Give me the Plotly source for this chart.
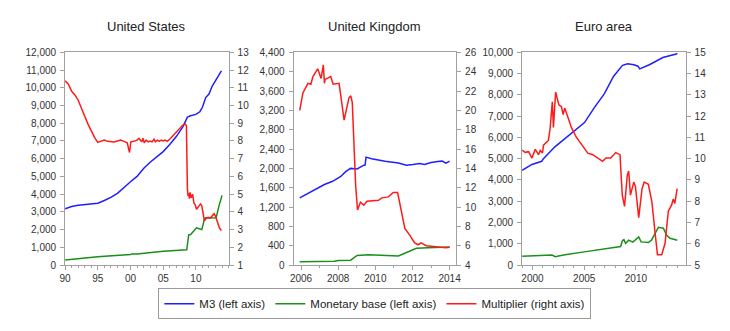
import plotly.graph_objects as go

# ---------------- United States ----------------
us_m3_year = [1990, 1991, 1992, 1993, 1994, 1995, 1996, 1997, 1998, 1999, 2000, 2001, 2002, 2003, 2004,
              2005, 2006, 2007, 2008, 2008.7, 2009.2, 2010, 2010.6, 2011, 2011.5, 2012, 2012.5, 2013, 2013.9]
us_m3 = [3180, 3300, 3370, 3420, 3460, 3490, 3640, 3820, 4050, 4400, 4700, 5000, 5450, 5800, 6100,
         6400, 6800, 7250, 7800, 8350, 8420, 8500, 8650, 8900, 9450, 9650, 10100, 10400, 10950]

us_mb_year = [1990, 1995, 2000, 2000.2, 2001, 2005, 2008.6, 2008.75, 2008.9, 2009.2, 2009.6, 2010.1, 2010.5,
              2010.9, 2011.3, 2011.5, 2012.0, 2012.5, 2013.1, 2013.5, 2014.0]
us_mb = [280, 470, 600, 630, 620, 780, 860, 1300, 1700, 1720, 1900, 2100, 2050, 2000, 2580, 2670, 2660,
         2680, 2670, 3300, 3930]

us_mult_year = [1990, 1990.5, 1991, 1991.5, 1992, 1992.5, 1993, 1993.5, 1994, 1994.5, 1995, 1995.5, 1996,
                1996.5, 1997, 1997.5, 1998, 1998.5, 1999, 1999.5, 1999.85, 2000.05, 2000.5, 2001, 2001.3,
                2001.5, 2001.7, 2001.9, 2002.1, 2002.4, 2002.7, 2003, 2003.3, 2003.6, 2003.8, 2004.1,
                2004.4, 2004.7, 2005, 2005.3, 2005.6, 2006, 2006.5, 2007, 2007.5, 2008, 2008.4, 2008.55,
                2008.7, 2008.8, 2008.9, 2009.0, 2009.1, 2009.3, 2009.5, 2009.7, 2009.9, 2010.1, 2010.4,
                2010.7, 2010.9, 2011.1, 2011.3, 2011.6, 2011.9, 2012.2, 2012.5, 2012.8, 2013.0, 2013.3,
                2013.6, 2013.9]
us_mult = [11.4, 11.2, 10.8, 10.6, 10.3, 9.9, 9.4, 8.95, 8.55, 8.2, 7.92, 8.0, 8.05, 7.98, 7.97, 7.95,
           8.0, 8.05, 7.98, 7.9, 7.35, 7.95, 7.98, 8.05, 8.15, 8.05, 7.95, 8.15, 7.9, 8.05, 7.95, 8.0,
           7.95, 8.1, 7.95, 8.05, 7.98, 8.05, 8.0, 8.05, 7.98, 8.1, 8.3, 8.45, 8.65, 8.9, 8.95, 8.85,
           5.3, 4.9, 5.05, 4.75, 5.1, 4.8, 5.0, 4.5, 4.4, 4.15, 4.3, 4.45, 4.35, 3.8, 3.5, 3.65, 3.7,
           3.65, 3.8, 3.9, 3.75, 3.4, 3.1, 2.95]

# ---------------- United Kingdom ----------------
uk_m3_year = [2005.93, 2006.64, 2007.26, 2007.7, 2008.14, 2008.4, 2008.67, 2009.02, 2009.2, 2009.38, 2009.45,
              2009.5, 2009.8, 2010.53, 2011.24, 2011.68, 2012.03, 2012.39, 2012.65, 2013.0, 2013.36,
              2013.6, 2013.8, 2014.0]
uk_m3 = [1390, 1533, 1667, 1733, 1833, 1933, 2000, 1987, 2033, 2067, 2070, 2233, 2200, 2147, 2113, 2067,
         2080, 2100, 2080, 2120, 2140, 2150, 2110, 2150]

uk_mb_year = [2005.93, 2007.0, 2007.8, 2008.0, 2008.67, 2009.02, 2009.65, 2011.24, 2011.68, 2012.21, 2012.83,
              2014.0]
uk_mb = [67, 67, 80, 95, 100, 200, 213, 187, 267, 347, 360, 373]

uk_mult_year = [2005.93, 2006.1, 2006.37, 2006.53, 2006.64, 2006.9, 2007.08, 2007.2, 2007.26, 2007.3,
                2007.6, 2007.73, 2008.05, 2008.32, 2008.58, 2008.68, 2008.76, 2008.94, 2009.04, 2009.2,
                2009.38, 2009.55, 2010.17, 2010.35, 2010.7, 2010.97, 2011.2, 2011.41, 2011.59, 2011.85,
                2012.12, 2012.3, 2012.47, 2012.74, 2013.18, 2013.45, 2013.8, 2014.0]
uk_mult = [20.0, 21.8, 22.8, 22.7, 23.5, 24.3, 23.3, 24.7, 22.8, 23.2, 23.5, 22.7, 22.8, 19.0, 21.3, 21.5,
           20.8, 12.3, 9.7, 10.5, 10.2, 10.6, 10.7, 10.95, 11.05, 11.5, 11.5, 9.5, 7.8, 7.1, 6.3, 6.1, 6.3,
           6.0, 5.9, 5.85, 5.8, 5.85]

# ---------------- Euro area ----------------
ea_m3_year = [1999.0, 1999.95, 2000.9, 2001.06, 2002.17, 2003.12, 2004.07, 2005.03, 2005.98, 2006.94,
              2007.83, 2008.7, 2009.2, 2009.8, 2010.2, 2010.36, 2011.3, 2012.6, 2013.9, 2014.0]
ea_m3 = [4450, 4730, 4880, 5000, 5560, 5940, 6318, 6700, 7400, 8050, 8870, 9390, 9460, 9420, 9350, 9225,
         9420, 9760, 9920, 9950]

ea_mb_year = [1999.0, 2000.9, 2001.9, 2002.2, 2003.0, 2005.0, 2008.52, 2008.7, 2008.84, 2009.0, 2009.3,
              2009.7, 2010.27, 2010.5, 2011.2, 2011.5, 2012.17, 2012.65, 2012.97, 2013.3, 2014.0]
ea_mb = [410, 470, 470, 390, 470, 620, 870, 1150, 1195, 1015, 1170, 1080, 1318, 1090, 1060, 1170, 1773,
         1730, 1400, 1260, 1170]

ea_mult_year = [1999.0, 1999.3, 1999.63, 1999.95, 2000.27, 2000.59, 2000.75, 2000.97, 2001.07, 2001.54,
                2001.7, 2001.92, 2002.03, 2002.24, 2002.55, 2002.8, 2002.97, 2003.12, 2003.45, 2003.76,
                2004.24, 2004.55, 2005.03, 2005.35, 2005.83, 2006.3, 2006.78, 2007.1, 2007.57, 2008.05,
                2008.46, 2008.68, 2008.9, 2009.16, 2009.3, 2009.47, 2009.79, 2009.95, 2010.27, 2010.59,
                2010.8, 2011.2, 2011.54, 2011.86, 2012.08, 2012.49, 2012.81, 2013.13, 2013.45, 2013.6,
                2013.76, 2013.98]
ea_mult = [10.4, 10.3, 10.33, 10.03, 10.44, 10.19, 10.39, 10.27, 10.64, 10.86, 11.39, 12.68, 11.47, 13.14,
           12.53, 12.45, 12.08, 12.38, 11.92, 11.47, 11.01, 10.79, 10.49, 10.26, 10.19, 10.03, 9.88, 10.03,
           10.03, 10.29, 10.19, 8.29, 7.76, 9.2, 9.42, 8.29, 8.9, 8.7, 7.23, 8.59, 8.9, 8.8, 7.98, 6.47,
           5.49, 5.49, 6.01, 7.53, 7.83, 8.1, 7.9, 8.59]

titles = ["United States", "United Kingdom", "Euro area"]
legend_names = ["M3 (left axis)", "Monetary base (left axis)", "Multiplier (right axis)"]

BLUE = "#1f1fff"
GREEN = "#1a8f1a"
RED = "#ff1a1a"
AXC = "#a0a0a0"
FONT = "Liberation Sans, Arial, sans-serif"

W, H = 730, 331
ytop, ybot = 49, 269
ydom = [(H - ybot) / H, (H - ytop) / H]
xdoms = [[60 / W, 226 / W], [292 / W, 457 / W], [524 / W, 690 / W]]

fig = go.Figure()

panels = [
    (us_m3_year, us_m3, us_mb_year, us_mb, us_mult_year, us_mult),
    (uk_m3_year, uk_m3, uk_mb_year, uk_mb, uk_mult_year, uk_mult),
    (ea_m3_year, ea_m3, ea_mb_year, ea_mb, ea_mult_year, ea_mult),
]

for i, (mx, my, bx, by, rx, ry) in enumerate(panels):
    xa = "x" if i == 0 else f"x{i+1}"
    yl = "y" if i == 0 else f"y{2*i+1}"
    yr = f"y{2*i+2}"
    fig.add_trace(go.Scatter(x=mx, y=my, mode="lines", xaxis=xa, yaxis=yl,
                             line=dict(color=BLUE, width=1.5), name=legend_names[0],
                             legendgroup="m3", showlegend=(i == 0)))
    fig.add_trace(go.Scatter(x=bx, y=by, mode="lines", xaxis=xa, yaxis=yl,
                             line=dict(color=GREEN, width=1.5), name=legend_names[1],
                             legendgroup="mb", showlegend=(i == 0)))
    fig.add_trace(go.Scatter(x=rx, y=ry, mode="lines", xaxis=xa, yaxis=yr,
                             line=dict(color=RED, width=1.5), name=legend_names[2],
                             legendgroup="mu", showlegend=(i == 0)))

tickfont = dict(family=FONT, size=10, color="#333333")

x_cfg = [
    dict(range=[1990, 2015], tickvals=[1990, 1995, 2000, 2005, 2010], ticktext=["90", "95", "00", "05", "10"],
         minor=list(range(1990, 2016))),
    dict(range=[2005.6, 2014.35], tickvals=[2006, 2008, 2010, 2012, 2014],
         ticktext=["2006", "2008", "2010", "2012", "2014"], minor=list(range(2006, 2015))),
    dict(range=[1999, 2014.8], tickvals=[2000, 2005, 2010], ticktext=["2000", "2005", "2010"],
         minor=list(range(1999, 2015))),
]
yl_cfg = [dict(range=[0, 12000], dtick=1000), dict(range=[0, 4400], dtick=400), dict(range=[0, 10000], dtick=1000)]
yr_cfg = [dict(range=[1, 13], dtick=1), dict(range=[4, 26], dtick=2), dict(range=[5, 15], dtick=1)]

layout = dict(
    width=W, height=H, margin=dict(l=0, r=0, t=0, b=0),
    paper_bgcolor="white", plot_bgcolor="white",
    font=dict(family=FONT, color="#333333"),
    showlegend=True,
    legend=dict(orientation="h", x=374.5 / W, y=(H - 309) / H, xanchor="center", yanchor="middle",
                bordercolor="#9a9a9a", borderwidth=1, font=dict(family=FONT, size=11.5, color="#222222"),
                bgcolor="white", tracegroupgap=0, itemwidth=30, traceorder="normal"),
)

for i in range(3):
    xkey = "xaxis" if i == 0 else f"xaxis{i+1}"
    ylkey = "yaxis" if i == 0 else f"yaxis{2*i+1}"
    yrkey = f"yaxis{2*i+2}"
    xa_anchor = "y" if i == 0 else f"y{2*i+1}"
    xname = "x" if i == 0 else f"x{i+1}"
    ylname = "y" if i == 0 else f"y{2*i+1}"
    c = x_cfg[i]
    layout[xkey] = dict(domain=xdoms[i], anchor=xa_anchor, range=c["range"], tickmode="array",
                        tickvals=c["tickvals"], ticktext=c["ticktext"], showgrid=False, zeroline=False,
                        showline=True, linecolor=AXC, linewidth=1, mirror=True,
                        ticks="outside", ticklen=4, tickcolor=AXC, tickfont=tickfont,
                        minor=dict(tickmode="array", tickvals=c["minor"], ticks="outside", ticklen=2,
                                   tickcolor=AXC, showgrid=False))
    layout[ylkey] = dict(domain=ydom, anchor=xname, range=yl_cfg[i]["range"], tickmode="linear", tick0=0,
                         dtick=yl_cfg[i]["dtick"], tickformat=",d", showgrid=False, zeroline=False,
                         showline=True, linecolor=AXC, linewidth=1, ticks="outside", ticklen=4,
                         tickcolor=AXC, tickfont=tickfont, ticklabelstandoff=2)
    layout[yrkey] = dict(domain=ydom, anchor=xname, overlaying=ylname, side="right",
                         range=yr_cfg[i]["range"], tickmode="linear", tick0=yr_cfg[i]["range"][0],
                         dtick=yr_cfg[i]["dtick"], showgrid=False, zeroline=False,
                         showline=True, linecolor=AXC, linewidth=1, ticks="outside", ticklen=4,
                         tickcolor=AXC, tickfont=tickfont, ticklabelstandoff=2)

fig.update_layout(**layout)

title_x = [143, 374.5, 607]
for t, tx in zip(titles, title_x):
    fig.add_annotation(text=t, x=tx / W, y=(H - 22) / H, xref="paper", yref="paper",
                       showarrow=False, xanchor="center", yanchor="middle",
                       font=dict(family=FONT, size=13, color="#222222"))

fig.write_html("out.html")
